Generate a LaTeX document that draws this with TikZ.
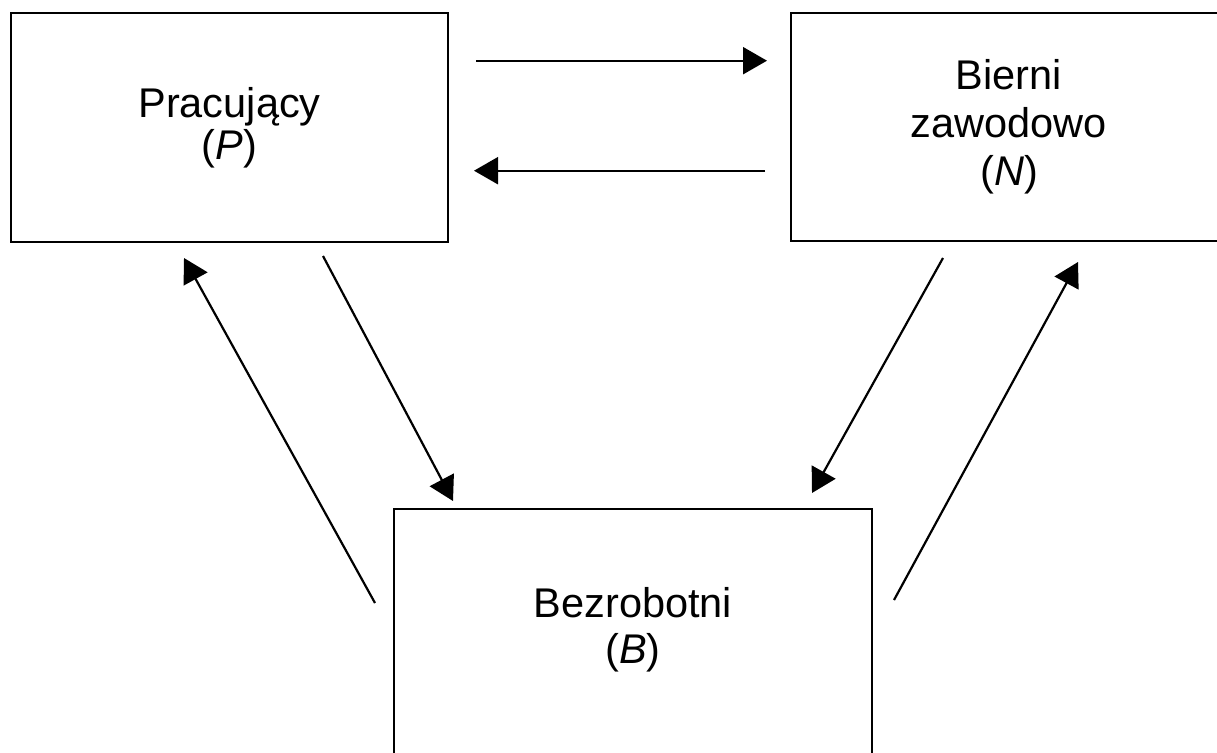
\documentclass[tikz,border=0pt]{standalone}
\usepackage{fontspec}
\setmainfont{Liberation Sans}
\usetikzlibrary{arrows.meta}
\begin{document}
\begin{tikzpicture}[x=1pt,y=-1pt,
  box/.style={draw=black,fill=white,rectangle,inner sep=0pt,align=center,
    font=\fontsize{41.5}{46}\selectfont},
  flow/.style={line width=2.2pt,-{Triangle[length=24pt,width=27pt]}}]
\useasboundingbox (0,0) rectangle (1217,752);
\clip (0,0) rectangle (1217,752);
\node[box,line width=2.8pt,minimum width=437pt,minimum height=229pt] (P) at (229.5,127.5)
  {Pracujący\\[-4pt](\textit{P})};
\node[box,line width=2.2pt,minimum width=436pt,minimum height=228pt] (N) at (1009,127)
  {Bierni\\[2pt]zawodowo\\[2pt](\textit{N})};
\node[box,line width=1.8pt,minimum width=478pt,minimum height=291pt,
  label={[name=Bt,align=center,font=\fontsize{41.5}{46}\selectfont,yshift=25pt]center:Bezrobotni\\(\textit{B})}]
  (B) at (633,654.5) {};
% connector end points
\coordinate (pn1) at (476,60.7);
\coordinate (pn2) at (767,60.7);
\coordinate (np1) at (765,170.7);
\coordinate (np2) at (474,170.7);
\coordinate (bp1) at (375,603);
\coordinate (bp2) at (184,258);
\coordinate (pb1) at (323,256);
\coordinate (pb2) at (453,501);
\coordinate (nb1) at (943,258);
\coordinate (nb2) at (812,493);
\coordinate (bn1) at (894,600);
\coordinate (bn2) at (1078,262);
\draw[flow] (pn1) -- (pn2);
\draw[flow] (np1) -- (np2);
\draw[flow] (bp1) -- (bp2);
\draw[flow] (pb1) -- (pb2);
\draw[flow] (nb1) -- (nb2);
\draw[flow] (bn1) -- (bn2);
\end{tikzpicture}
\end{document}
